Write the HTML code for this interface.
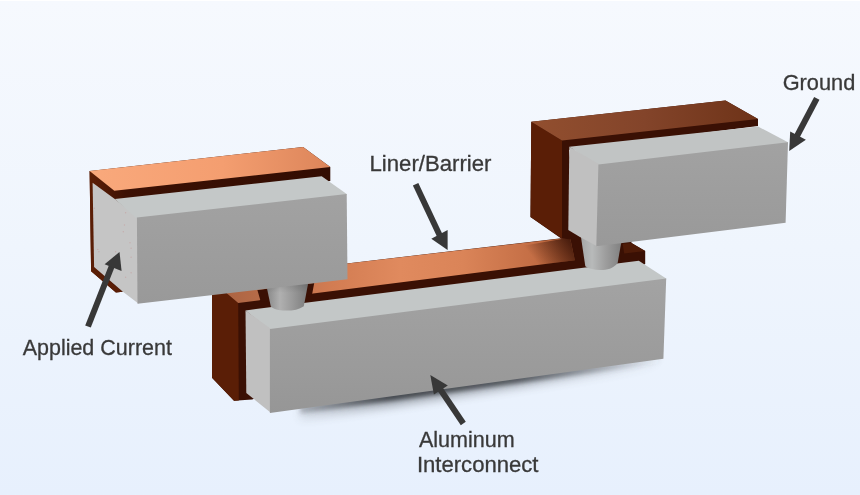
<!DOCTYPE html>
<html><head><meta charset="utf-8">
<style>
html,body{margin:0;padding:0;width:860px;height:495px;overflow:hidden;background:#eef4fc;}
svg{display:block;position:absolute;left:0;top:0;}
svg g.t{will-change:transform;} text{font-family:"Liberation Sans",sans-serif;font-size:21.3px;fill:#383838;stroke:#383838;stroke-width:0.3px;}
</style></head><body>
<svg width="860" height="495" viewBox="0 0 860 495">
<defs>
<linearGradient id="bg" x1="0" y1="0" x2="0" y2="1">
<stop offset="0" stop-color="#f6f9fe"/><stop offset="0.5" stop-color="#eff5fd"/><stop offset="1" stop-color="#e7f0fd"/>
</linearGradient>
<linearGradient id="orL" gradientUnits="userSpaceOnUse" x1="90" y1="0" x2="330" y2="0">
<stop offset="0" stop-color="#f9a97c"/><stop offset="0.55" stop-color="#f49e70"/><stop offset="1" stop-color="#dc855a"/>
</linearGradient>
<linearGradient id="bandL" gradientUnits="userSpaceOnUse" x1="90" y1="0" x2="330" y2="0">
<stop offset="0" stop-color="#5e1f07"/><stop offset="0.15" stop-color="#3c1104"/><stop offset="1" stop-color="#330d02"/>
</linearGradient>
<linearGradient id="orC" gradientUnits="userSpaceOnUse" x1="226" y1="0" x2="575" y2="0">
<stop offset="0" stop-color="#ac6442"/><stop offset="0.18" stop-color="#c0724e"/><stop offset="0.3" stop-color="#d27c52"/><stop offset="0.5" stop-color="#e08a5e"/><stop offset="0.68" stop-color="#da8458"/><stop offset="0.88" stop-color="#c46e45"/><stop offset="1" stop-color="#a9572f"/>
</linearGradient>
<linearGradient id="orShade" gradientUnits="userSpaceOnUse" x1="540" y1="266" x2="574" y2="238">
<stop offset="0" stop-color="#2a0a02" stop-opacity="0"/><stop offset="1" stop-color="#2a0a02" stop-opacity="0.85"/>
</linearGradient>
<linearGradient id="brR" gradientUnits="userSpaceOnUse" x1="531" y1="0" x2="758" y2="0">
<stop offset="0" stop-color="#924f2f"/><stop offset="0.5" stop-color="#83442a"/><stop offset="1" stop-color="#6e3318"/>
</linearGradient>
<linearGradient id="frontL" gradientUnits="userSpaceOnUse" x1="0" y1="194" x2="0" y2="304">
<stop offset="0" stop-color="#a2a2a2"/><stop offset="1" stop-color="#999999"/>
</linearGradient>
<linearGradient id="frontR" gradientUnits="userSpaceOnUse" x1="0" y1="142" x2="0" y2="247">
<stop offset="0" stop-color="#a2a2a2"/><stop offset="1" stop-color="#999999"/>
</linearGradient>
<linearGradient id="frontC" gradientUnits="userSpaceOnUse" x1="0" y1="279" x2="0" y2="413">
<stop offset="0" stop-color="#a3a3a3"/><stop offset="0.8" stop-color="#999999"/><stop offset="1" stop-color="#969696"/>
</linearGradient>
<linearGradient id="coneL" x1="0" y1="0" x2="1" y2="0">
<stop offset="0" stop-color="#878787"/><stop offset="0.32" stop-color="#b0b0b0"/><stop offset="0.6" stop-color="#9b9b9b"/><stop offset="1" stop-color="#7a7a7a"/>
</linearGradient>
<linearGradient id="coneR" x1="0" y1="0" x2="1" y2="0">
<stop offset="0" stop-color="#a4a6a6"/><stop offset="0.28" stop-color="#b8baba"/><stop offset="0.6" stop-color="#9e9e9e"/><stop offset="1" stop-color="#808080"/>
</linearGradient>
<linearGradient id="coneShade" x1="0" y1="0" x2="0" y2="1">
<stop offset="0" stop-color="#000" stop-opacity="0.15"/><stop offset="0.4" stop-color="#000" stop-opacity="0"/>
</linearGradient>
<linearGradient id="shadowG" gradientUnits="userSpaceOnUse" x1="300" y1="0" x2="663" y2="0">
<stop offset="0" stop-color="#45494f" stop-opacity="0.3"/><stop offset="0.25" stop-color="#45494f" stop-opacity="1"/><stop offset="0.6" stop-color="#45494f" stop-opacity="0.85"/><stop offset="0.9" stop-color="#45494f" stop-opacity="0.2"/><stop offset="1" stop-color="#45494f" stop-opacity="0"/>
</linearGradient>
<filter id="blur6" x="-20%" y="-300%" width="140%" height="700%"><feGaussianBlur stdDeviation="5"/></filter>
<filter id="blur3" x="-20%" y="-200%" width="140%" height="500%"><feGaussianBlur stdDeviation="2.2"/></filter>
</defs>
<rect width="860" height="495" fill="url(#bg)"/>
<rect width="860" height="1" fill="#ffffff"/>

<!-- shadow under central box -->
<polygon points="300,405 663,355 663,366 300,420" fill="url(#shadowG)" opacity="0.45" filter="url(#blur6)"/>
<polygon points="300,405 663,355 663,363 300,413.5" fill="url(#shadowG)" filter="url(#blur3)"/>

<!-- CENTRAL COPPER -->
<polygon points="212,294 226.7,277.6 631.5,229.9 631.5,242.9 645.2,251 645.2,264 600,290 252,399.5 234,400.7 212,377.7" fill="#3a1004"/>
<polygon points="212,294 226.7,293.3 238.2,303 238.8,400.5 234,400.7 212,377.7" fill="#5a1e06"/>
<polygon points="226.7,293.3 226.7,277.6 570,237.4 574.8,260.2 238.2,303" fill="url(#orC)"/>
<polygon points="500,250 570,237.4 574.8,260.2 500,270" fill="url(#orShade)"/>
<polygon points="257.4,290 314.2,283 312.3,293.3 311,296 259,302 260.2,299.8" fill="#3a1004"/>
<polygon points="622.6,243.7 631.5,242.9 645.2,251 624.2,253.4" fill="#4e1b08"/>

<!-- RIGHT COPPER -->
<polygon points="531.3,121.8 725.5,100.6 758,119 758,126 569,150 579.5,236.8 579.5,240 561.2,238.5 530.5,217" fill="#3a1004"/>
<polygon points="531.3,121.8 562,140.4 562,238 561.2,238 530.5,217" fill="#5a1e06"/>
<polygon points="531.3,121.8 725.5,100.6 758,119 562,140.4" fill="url(#brR)"/>

<!-- CENTRAL GREY -->
<polygon points="245.5,310.4 638.8,260.7 666.2,278.5 666.2,279.7 269.9,330.3" fill="#c3c7c7"/>
<polygon points="245.5,310.4 271.1,329.1 271.1,412.9 246.3,393" fill="#c0c0c0"/>
<polygon points="269.9,329.1 666.2,278.5 663.4,358.8 269.9,412.9" fill="url(#frontC)"/>

<!-- CONES -->
<path d="M266.4,285.5 L308.6,281 L303.8,306.2 C299,309.5 293,310.7 285.3,310.6 C278,310.5 274,309 270.8,306.4 Z" fill="url(#coneL)"/>
<path d="M266.4,285.5 L308.6,281 L303.8,306.2 C299,309.5 293,310.7 285.3,310.6 C278,310.5 274,309 270.8,306.4 Z" fill="url(#coneShade)"/>
<path d="M580.6,234.5 L621.6,240.5 L617.6,263.2 C613,268.5 607,270 600.7,270 C594,270 589,268.8 585.3,266.3 Z" fill="url(#coneR)"/>

<!-- RIGHT GREY -->
<polygon points="569.3,146.8 758,126.5 788,142.3 788,143.5 598.4,165.8" fill="#c1c4c4"/>
<polygon points="569.3,146.8 599.6,164.6 597.5,246.5 579.5,236.8 568.3,230" fill="#c0c0c0"/>
<polygon points="598.4,164.6 788,142.3 785.6,222.8 596.3,246.3" fill="url(#frontR)"/>

<!-- LEFT COPPER -->
<polygon points="89.6,170.9 303.1,147.1 330.3,167 330.3,181 200,200 122.6,291.8 115.9,292.4 91.1,271.2" fill="url(#bandL)"/>
<polygon points="89.6,170.9 93,172 93,268 122.6,291.8 115.9,292.4 91.1,271.2" fill="#5a1e06"/>
<polygon points="89.6,170.9 303.1,147.1 330.3,167 114.3,190.8" fill="url(#orL)"/>

<!-- LEFT GREY -->
<polygon points="92.6,182.7 114.8,198.9 138.1,217.5 138.7,303.8 122.6,291.5 94.1,267" fill="#c5c5c5"/>
<polygon points="114.8,198.9 321.7,176.2 346.7,194 346.7,195.2 136.9,218.7" fill="#c4c8c8"/>
<polygon points="136.9,217.5 346.7,194 347.5,279.2 137.5,303.8" fill="url(#frontL)"/>

<g fill="#c49090" opacity="0.45"><circle cx="125.6" cy="212.8" r="0.7"/><circle cx="124.4" cy="225" r="0.7"/><circle cx="123.3" cy="231.7" r="0.7"/><circle cx="130" cy="242.8" r="0.7"/><circle cx="131.1" cy="248.3" r="0.7"/><circle cx="97.8" cy="249.4" r="0.7"/><circle cx="98.9" cy="251.7" r="0.7"/><circle cx="115.6" cy="251.7" r="0.7"/><circle cx="131.1" cy="257.2" r="0.7"/><circle cx="131.1" cy="272.8" r="0.7"/><circle cx="125.6" cy="277.2" r="0.7"/><circle cx="94.4" cy="208.3" r="0.7"/></g>
<!-- ARROWS -->
<g fill="#383838">
<line x1="88" y1="326.5" x2="113" y2="263" stroke="#383838" stroke-width="6"/>
<polygon points="119.5,252 104.6,264.2 121.6,271"/>
<line x1="415.6" y1="184.2" x2="440" y2="236" stroke="#383838" stroke-width="6"/>
<polygon points="447.6,250 431.3,238.7 447.6,230"/>
<line x1="816.8" y1="98.3" x2="797" y2="136" stroke="#383838" stroke-width="6"/>
<polygon points="789.2,151 790.2,131.6 805.9,139.7"/>
<line x1="463.3" y1="423.5" x2="438" y2="386" stroke="#383838" stroke-width="6"/>
<polygon points="430.3,375 433.9,394.5 447.8,385.5"/>
</g>

<g class="t" opacity="0.995">
<text x="22.7" y="354.7" textLength="149.2" lengthAdjust="spacingAndGlyphs">Applied Current</text>
<text x="369.5" y="170.7" textLength="122" lengthAdjust="spacingAndGlyphs">Liner/Barrier</text>
<text x="782.7" y="90.3" textLength="72.6" lengthAdjust="spacingAndGlyphs">Ground</text>
<text x="418.9" y="446.5" textLength="95.8" lengthAdjust="spacingAndGlyphs">Aluminum</text>
<text x="416.9" y="472.0" textLength="121.6" lengthAdjust="spacingAndGlyphs">Interconnect</text>
</g>
</svg>
</body></html>
